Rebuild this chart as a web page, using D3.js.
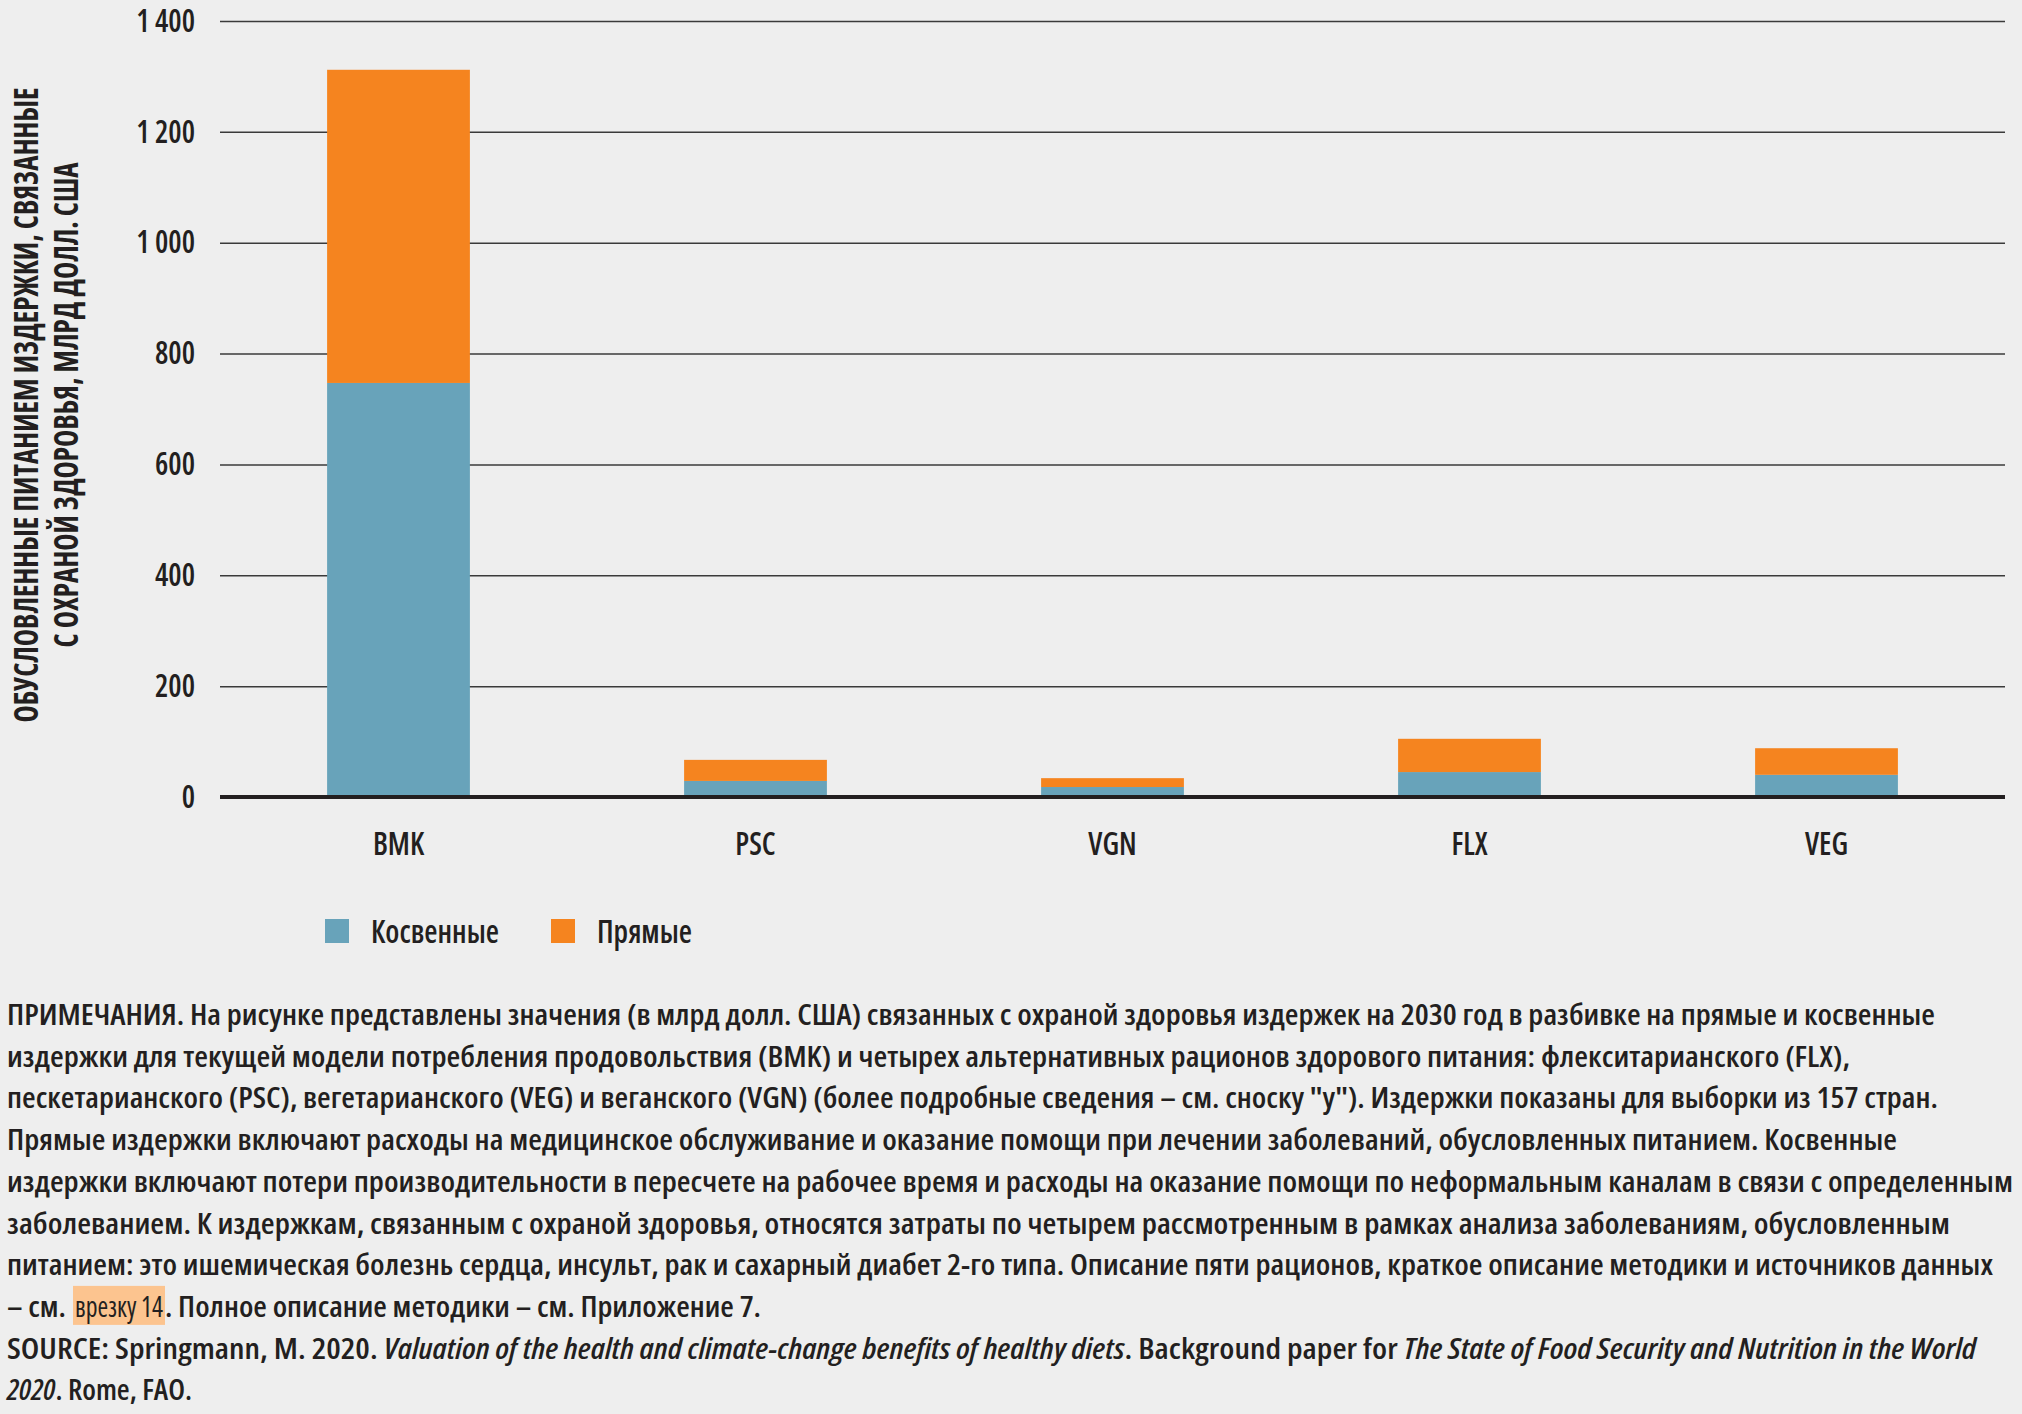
<!DOCTYPE html>
<html>
<head>
<meta charset="utf-8">
<script src="https://cdnjs.cloudflare.com/ajax/libs/d3/7.8.5/d3.min.js"></script>
<style>
  body { margin: 0; background: #eeeeee; }
  svg text { font-family: "Open Sans", "Roboto", "DejaVu Sans", sans-serif; font-stretch: condensed; fill: #231f20; }
</style>
</head>
<body>
<svg id="chart"></svg>
<script>

// data (млрд долл. США)
var diets = ["BMK", "PSC", "VGN", "FLX", "VEG"];
var indirect = [747, 29, 18, 45, 40];   // Косвенные
var direct = [565, 38, 16, 60, 48];     // Прямые
var seriesKeys = ["indirect", "direct"];
var seriesNames = ["Косвенные", "Прямые"];
var yTicks = [0, 200, 400, 600, 800, 1000, 1200, 1400];

var W = 2022, H = 1414;
var colors = { indirect: "#68a3ba", direct: "#f5841f" };

var svg = d3.select("#chart")
    .attr("width", W)
    .attr("height", H);

svg.append("rect")
    .attr("width", W)
    .attr("height", H)
    .attr("fill", "#eeeeee");

var plotLeft = 220, plotRight = 2005, plotTop = 21, zeroY = 797;

var x = d3.scaleBand()
    .domain(diets)
    .range([plotLeft, plotRight])
    .paddingInner(0.6)
    .paddingOuter(0.3);

var y = d3.scaleLinear()
    .domain([0, 1400])
    .range([zeroY, plotTop]);

// squeeze text horizontally (the original uses a condensed face)
function squeeze(sel, k) {
    sel.each(function () {
        var w = this.getComputedTextLength();
        d3.select(this).attr("textLength", w * k).attr("lengthAdjust", "spacingAndGlyphs");
    });
}
function fitTo(sel, w) {
    sel.attr("textLength", w).attr("lengthAdjust", "spacingAndGlyphs");
}

// measure factor from "800" which is ~40px wide in the picture
var probe = svg.append("text")
    .text("800")
    .style("font-size", "32px")
    .style("font-weight", 600);
var k = 40 / probe.node().getComputedTextLength();
probe.remove();

var thousands = d3.formatLocale({ decimal: ",", thousands: "\u00a0", grouping: [3], currency: ["", ""] }).format(",d");

// y axis with gridlines
var yAxis = svg.append("g")
    .attr("class", "axis axis-y")
    .attr("transform", "translate(" + plotLeft + ",0)")
    .call(d3.axisLeft(y)
        .tickValues(yTicks)
        .tickSize(-(plotRight - plotLeft))
        .tickPadding(25)
        .tickFormat(thousands));

yAxis.select(".domain").remove();
yAxis.selectAll(".tick line")
    .attr("stroke", "#3a3a3a")
    .attr("stroke-width", 1.5);
yAxis.selectAll(".tick text")
    .style("font-size", "32px")
    .style("font-weight", 600)
    .attr("fill", "#231f20")
    .call(squeeze, k);

// stacked bars
var rows = diets.map(function (d, i) {
    return { diet: d, indirect: indirect[i], direct: direct[i] };
});
var stacked = d3.stack().keys(seriesKeys)(rows);

svg.append("g")
    .selectAll("g")
    .data(stacked)
    .enter()
    .append("g")
    .attr("fill", function (s) { return colors[s.key]; })
    .selectAll("rect")
    .data(function (s) { return s; })
    .enter()
    .append("rect")
    .attr("x", function (d) { return x(d.data.diet); })
    .attr("y", function (d) { return y(d[1]); })
    .attr("width", x.bandwidth())
    .attr("height", function (d) { return y(d[0]) - y(d[1]); });

// zero line
svg.append("line")
    .attr("x1", plotLeft)
    .attr("x2", plotRight)
    .attr("y1", zeroY)
    .attr("y2", zeroY)
    .attr("stroke", "#231f20")
    .attr("stroke-width", 4);

// x axis labels
var xAxis = svg.append("g")
    .attr("class", "axis axis-x")
    .attr("transform", "translate(0," + zeroY + ")")
    .call(d3.axisBottom(x).tickSize(0));

xAxis.select(".domain").remove();
xAxis.selectAll(".tick text")
    .attr("y", 58)
    .attr("dy", 0)
    .style("font-size", "32px")
    .style("font-weight", 600)
    .attr("fill", "#231f20")
    .call(squeeze, k);

// y title
var titleLines = ["ОБУСЛОВЛЕННЫЕ ПИТАНИЕМ ИЗДЕРЖКИ, СВЯЗАННЫЕ", "С ОХРАНОЙ ЗДОРОВЬЯ,  МЛРД ДОЛЛ. США"];
var titleX = [38, 78], titleW = [635, 485];
titleLines.forEach(function (t, i) {
    svg.append("text")
        .attr("transform", "translate(" + titleX[i] + ",405) rotate(-90)")
        .attr("text-anchor", "middle")
        .style("font-size", "33px")
        .style("font-weight", 700)
        .text(t)
        .call(fitTo, titleW[i]);
});

// legend
var legendX = [325, 551], legendTextW = [128, 95];
seriesKeys.forEach(function (key, i) {
    svg.append("rect")
        .attr("x", legendX[i])
        .attr("y", 919)
        .attr("width", 24)
        .attr("height", 24)
        .attr("fill", colors[key]);
    svg.append("text")
        .attr("x", legendX[i] + 46)
        .attr("y", 943)
        .style("font-size", "32px")
        .style("font-weight", 600)
        .text(seriesNames[i])
        .call(fitTo, legendTextW[i]);
});

// notes
var noteLines = [
    "ПРИМЕЧАНИЯ. На рисунке представлены значения (в млрд долл. США) связанных с охраной здоровья издержек на 2030 год в разбивке на прямые и косвенные",
    "издержки для текущей модели потребления продовольствия (BMK) и четырех альтернативных рационов здорового питания: флекситарианского (FLX),",
    "пескетарианского (PSC), вегетарианского (VEG) и веганского (VGN) (более подробные сведения – см. сноску \"у\"). Издержки показаны для выборки из 157 стран.",
    "Прямые издержки включают расходы на медицинское обслуживание и оказание помощи при лечении заболеваний, обусловленных питанием. Косвенные",
    "издержки включают потери производительности в пересчете на рабочее время и расходы на оказание помощи по неформальным каналам в связи с определенным",
    "заболеванием. К издержкам, связанным с охраной здоровья, относятся затраты по четырем рассмотренным в рамках анализа заболеваниям, обусловленным",
    "питанием: это ишемическая болезнь сердца, инсульт, рак и сахарный диабет 2-го типа. Описание пяти рационов, краткое описание методики и источников данных"
];
var noteEnds = [1935, 1850, 1938, 1897, 2013, 1950, 1993];
var noteX = 7, firstBase = 1025, lineStep = 41.7;

var notes = svg.append("g").attr("class", "notes")
    .style("font-size", "29px")
    .style("font-weight", 600);

noteLines.forEach(function (t, i) {
    notes.append("text")
        .attr("x", noteX)
        .attr("y", firstBase + i * lineStep)
        .text(t)
        .call(fitTo, noteEnds[i] - noteX);
});

// line 8 with highlighted link
var base8 = firstBase + 7 * lineStep;
notes.append("rect")
    .attr("x", 73)
    .attr("y", base8 - 31)
    .attr("width", 92)
    .attr("height", 39)
    .attr("fill", "#fcc48f");
notes.append("text").attr("x", noteX).attr("y", base8).text("– см.").call(fitTo, 59);
notes.append("text").attr("x", 75).attr("y", base8).style("font-weight", 400).text("врезку 14").call(fitTo, 88);
notes.append("text").attr("x", 165).attr("y", base8).text(". Полное описание методики – см. Приложение 7.").call(fitTo, 596);

// source
var src = notes.append("text")
    .attr("x", noteX)
    .attr("y", firstBase + 8 * lineStep);
src.append("tspan").text("SOURCE: Springmann, M. 2020. ");
src.append("tspan").style("font-style", "italic").text("Valuation of the health and climate-change benefits of healthy diets");
src.append("tspan").text(". Background paper for ");
src.append("tspan").style("font-style", "italic").text("The State of Food Security and Nutrition in the World");
src.call(fitTo, 1976 - noteX);

var src2 = notes.append("text")
    .attr("x", noteX)
    .attr("y", firstBase + 9 * lineStep);
src2.append("tspan").style("font-style", "italic").text("2020");
src2.append("tspan").text(". Rome, FAO.");
src2.call(fitTo, 192 - noteX);

</script>
</body>
</html>
